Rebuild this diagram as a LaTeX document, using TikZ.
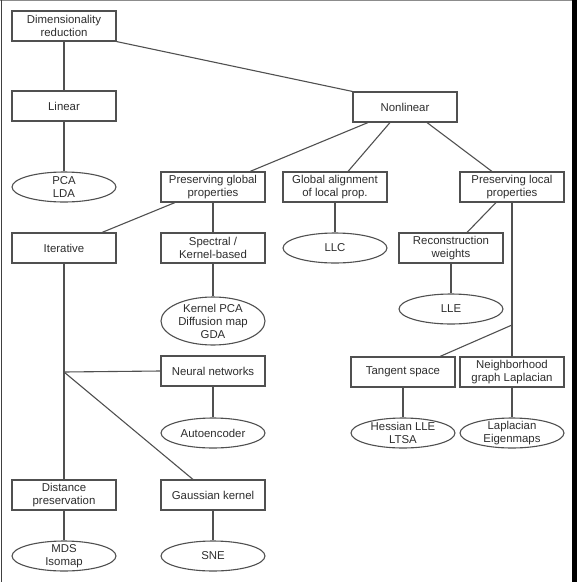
\documentclass[tikz,border=0pt]{standalone}
\usepackage{fontspec}
\setmainfont{Liberation Sans}
\usepackage{xcolor}
\usetikzlibrary{shapes.geometric}
\definecolor{edgegray}{RGB}{80,80,80}
\definecolor{textgray}{RGB}{45,45,45}
\tikzstyle{rbox}=[rectangle, draw=edgegray, line width=1.1pt, fill=white,
  font=\fontsize{11.4}{13}\selectfont, text=textgray, align=center,
  minimum width=104pt, minimum height=30pt, inner sep=1pt]
\tikzstyle{oval}=[ellipse, draw=edgegray, line width=1.1pt, fill=white,
  font=\fontsize{11.4}{13}\selectfont, text=textgray, align=center,
  minimum width=104pt, minimum height=30pt, inner sep=-7pt]
\tikzstyle{link}=[draw=edgegray, line width=1.1pt]

\begin{document}
\begin{tikzpicture}[x=1pt, y=-1pt]
        \useasboundingbox (0,0) rectangle (577,582);
        \draw[black!45, line width=1pt] (0,0.5) -- (572,0.5);
        \draw[black!75, line width=1pt] (1,0) -- (1,582);
        \fill[black] (572,0) rectangle (577,582);

        \node[rbox] (dim) at (64,26) {Dimensionality\\reduction};
        \node[rbox] (lin) at (64,106) {Linear};
        \node[oval] (pcalda) at (64,187) {PCA\\LDA};
        \node[rbox] (nonlin) at (405,107) {Nonlinear};
        \node[rbox] (pglob) at (213,187) {Preserving global\\properties};
        \node[rbox] (galign) at (335,187) {Global alignment\\of local prop.};
        \node[rbox] (ploc) at (512,187) {Preserving local\\properties};
        \node[rbox] (iter) at (64,248) {Iterative};
        \node[rbox] (spec) at (213,248) {Spectral /\\Kernel-based};
        \node[oval] (llc) at (335,248) {LLC};
        \node[rbox] (recw) at (451,248) {Reconstruction\\weights};
        \node[oval, minimum height=48pt] (kpca) at (213,321)
          {Kernel PCA\\Diffusion map\\GDA};
        \node[oval] (lle) at (451,309) {LLE};
        \node[rbox] (nnet) at (213,371) {Neural networks};
        \node[rbox] (tang) at (403,372) {Tangent space};
        \node[rbox] (nbgl) at (512,372) {Neighborhood\\graph Laplacian};
        \node[oval] (auto) at (213,433) {Autoencoder};
        \node[oval] (hess) at (403,433) {Hessian LLE\\LTSA};
        \node[oval] (lapl) at (512,433) {Laplacian\\Eigenmaps};
        \node[rbox] (dist) at (64,495) {Distance\\preservation};
        \node[rbox] (gauss) at (213,495) {Gaussian kernel};
        \node[oval] (mds) at (64,556) {MDS\\Isomap};
        \node[oval] (sne) at (213,556) {SNE};

        \coordinate (jleft) at (64,372);
        \coordinate (jright) at (512,325);

        \draw[link] (dim.south east)--(nonlin.north west);
        \draw[link] (dim)--(lin);
        \draw[link] (lin)--(pcalda);
        \draw[link] ([xshift=-37pt]nonlin.south)--([xshift=37pt]pglob.north);
        \draw[link] ([xshift=-15pt]nonlin.south)--([xshift=13pt]galign.north);
        \draw[link] ([xshift=22pt]nonlin.south)--([xshift=-20pt]ploc.north);
        \draw[link] ([xshift=-38pt]pglob.south)--([xshift=38pt]iter.north);
        \draw[link] (pglob)--(spec);
        \draw[link] (spec)--(kpca);
        \draw[link] (galign)--(llc);
        \draw[link] ([xshift=-16pt]ploc.south)--([xshift=16pt]recw.north);
        \draw[link] (recw)--(lle);
        \draw[link] (ploc.south)--(jright)--(nbgl.north);
        \draw[link] (jright)--([xshift=37pt]tang.north);
        \draw[link] (tang)--(hess);
        \draw[link] (nbgl)--(lapl);
        \draw[link] (iter.south)--(jleft)--(dist.north);
        \draw[link] (jleft)--(nnet.west);
        \draw[link] (jleft)--([xshift=-20pt]gauss.north);
        \draw[link] (nnet)--(auto);
        \draw[link] (gauss)--(sne);
        \draw[link] (dist)--(mds);
      \end{tikzpicture}
\end{document}
